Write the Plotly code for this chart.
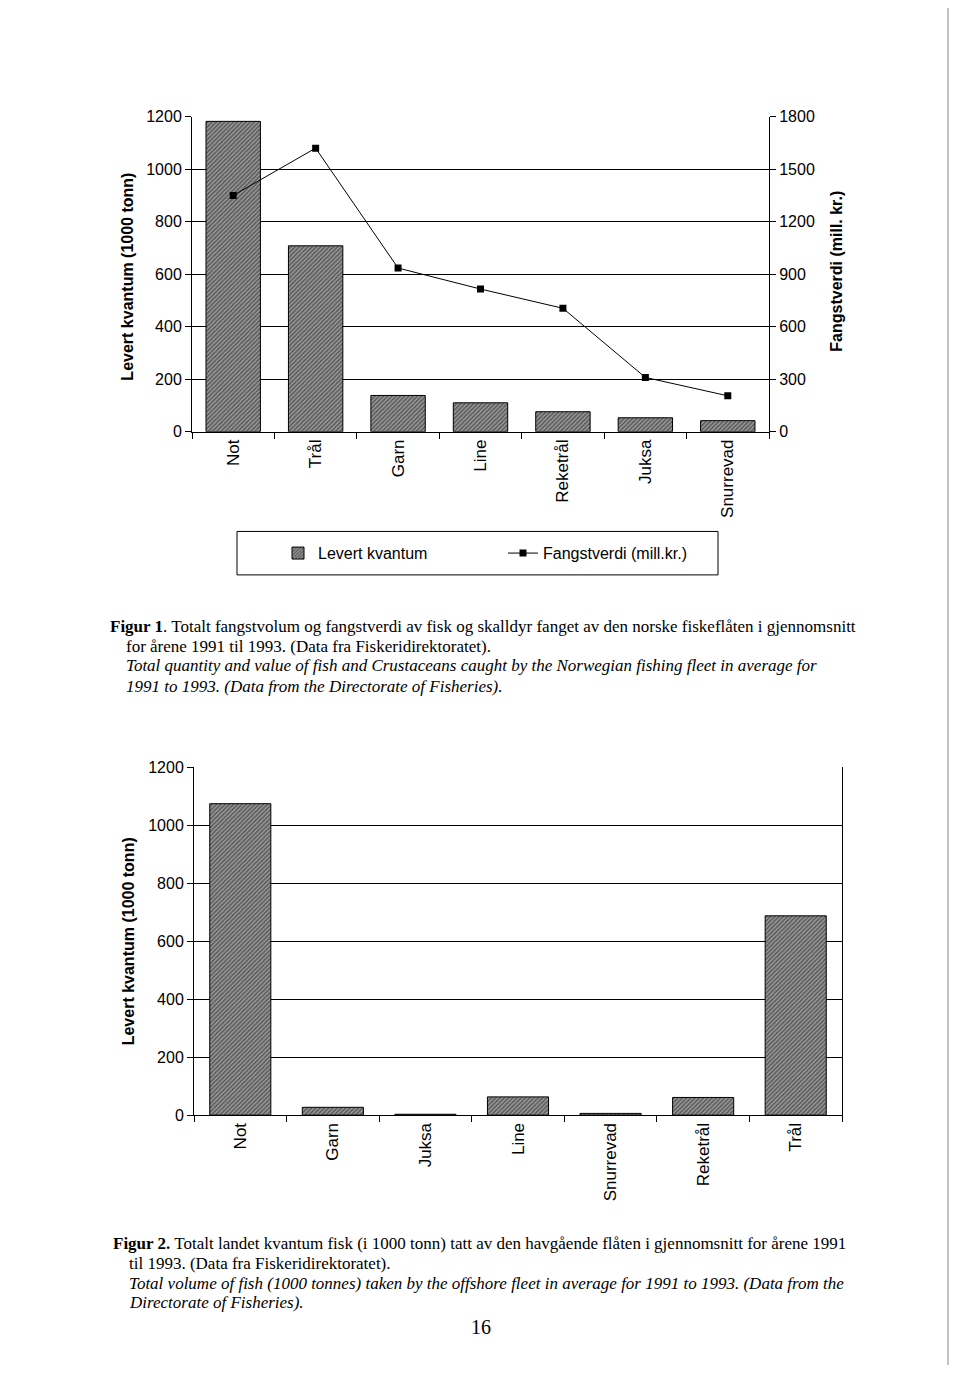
import plotly.graph_objects as go

# ---- data ----
cat1 = ["Not", "Trål", "Garn", "Line", "Reketrål", "Juksa", "Snurrevad"]
kvantum1 = [1182, 708, 138, 110, 76, 53, 42]          # 1000 tonn
verdi1 = [1350, 1620, 935, 815, 705, 310, 205]        # mill. kr.

cat2 = ["Not", "Garn", "Juksa", "Line", "Snurrevad", "Reketrål", "Trål"]
kvantum2 = [1075, 27, 3, 63, 6, 61, 688]

yticks = [0, 200, 400, 600, 800, 1000, 1200]
y2ticks = [0, 300, 600, 900, 1200, 1500, 1800]

W, H = 960, 1374
SANS = "Liberation Sans, Arial, sans-serif"
SERIF = "Liberation Serif, Times New Roman, serif"

def px(x):
    return x / W

def py(y):
    return 1 - y / H

bar_marker = dict(
    color="#969696",
    line=dict(color="black", width=1),
    pattern=dict(shape="/", fgcolor="#161616", bgcolor="#9a9a9a", size=3, solidity=0.5),
)

fig = go.Figure()
fig.add_trace(go.Bar(x=cat1, y=kvantum1, name="Levert kvantum", xaxis="x", yaxis="y",
                     marker=bar_marker))
fig.add_trace(go.Scatter(x=cat1, y=verdi1, name="Fangstverdi (mill.kr.)", xaxis="x", yaxis="y2",
                         mode="lines+markers", line=dict(color="black", width=1),
                         marker=dict(symbol="square", size=7, color="black")))
fig.add_trace(go.Bar(x=cat2, y=kvantum2, xaxis="x2", yaxis="y3", showlegend=False,
                     marker=bar_marker))

axis_common = dict(showline=True, linecolor="black", linewidth=1, ticks="outside",
                   tickcolor="black", ticklen=6, zeroline=False)

fig.update_layout(
    width=W, height=H, margin=dict(l=0, r=0, t=0, b=0),
    paper_bgcolor="white", plot_bgcolor="white",
    font=dict(family=SANS, color="black", size=16),
    bargap=0.34,
    xaxis=dict(domain=[px(192), px(769)], anchor="y", tickson="boundaries", tickangle=-90,
               tickfont=dict(size=17), showgrid=False, **axis_common),
    yaxis=dict(domain=[py(429), py(110)], range=[0, 1200], tickvals=yticks, anchor="x",
               showgrid=True, gridcolor="black", gridwidth=1, tickfont=dict(size=16),
               **axis_common),
    yaxis2=dict(overlaying="y", side="right", anchor="x", range=[0, 1800], tickvals=y2ticks,
                showgrid=False, tickfont=dict(size=16), **axis_common),
    xaxis2=dict(domain=[px(194), px(842)], anchor="y3", tickson="boundaries", tickangle=-90,
                tickfont=dict(size=17), showgrid=False, **axis_common),
    yaxis3=dict(domain=[py(1121), py(769)], range=[0, 1200], tickvals=yticks, anchor="x2",
                showgrid=True, gridcolor="black", gridwidth=1, mirror=True,
                tickfont=dict(size=16), **axis_common),
    legend=dict(orientation="h", x=px(278), y=py(552), xanchor="left", yanchor="middle",
                font=dict(size=16), bgcolor="rgba(0,0,0,0)", entrywidth=180,
                entrywidthmode="pixels"),
)

# legend frame
fig.add_shape(type="rect", xref="paper", yref="paper", x0=px(237), x1=px(718),
              y0=py(574), y1=py(530), line=dict(color="black", width=1))
# page edge
fig.add_shape(type="line", xref="paper", yref="paper", x0=px(948), x1=px(948),
              y0=0, y1=1, line=dict(color="#8a8a8a", width=1))

# axis titles
for txt, x, y in [("<b>Levert kvantum (1000 tonn)</b>", 128, 272),
                  ("<b>Fangstverdi (mill. kr.)</b>", 837, 267),
                  ("<b>Levert kvantum (1000 tonn)</b>", 128, 945)]:
    fig.add_annotation(text=txt, xref="paper", yref="paper", x=px(x), y=py(y),
                       xanchor="center", yanchor="middle", textangle=-90, showarrow=False,
                       font=dict(size=16, family=SANS))

cap1 = [
    ("<b>Figur 1</b>. Totalt fangstvolum og fangstverdi av fisk og skalldyr fanget av den norske fiskeflåten i gjennomsnitt", 108, 626),
    ("for årene 1991 til 1993. (Data fra Fiskeridirektoratet).", 124, 646),
    ("<i>Total quantity and value of fish and Crustaceans caught by the Norwegian fishing fleet in average for</i>", 124, 666),
    ("<i>1991 to 1993. (Data from the Directorate of Fisheries).</i>", 124, 687),
]
cap2 = [
    ("<b>Figur 2.</b> Totalt landet kvantum fisk (i 1000 tonn) tatt av den havgående flåten i gjennomsnitt for årene 1991", 111, 1251),
    ("til 1993. (Data fra Fiskeridirektoratet).", 127, 1271),
    ("<i>Total volume of fish (1000 tonnes) taken by the offshore fleet in average for 1991 to 1993. (Data from the</i>", 127, 1291),
    ("<i>Directorate of Fisheries).</i>", 127, 1311),
]
for txt, x, y in cap1 + cap2:
    fig.add_annotation(text=txt, xref="paper", yref="paper", x=px(x), y=py(y),
                       xanchor="left", yanchor="middle", showarrow=False,
                       font=dict(size=17, family=SERIF))

fig.add_annotation(text="16", xref="paper", yref="paper", x=px(481), y=py(1336),
                   xanchor="center", yanchor="middle",
                   showarrow=False, font=dict(size=20, family=SERIF))

fig.write_html("out.html")
